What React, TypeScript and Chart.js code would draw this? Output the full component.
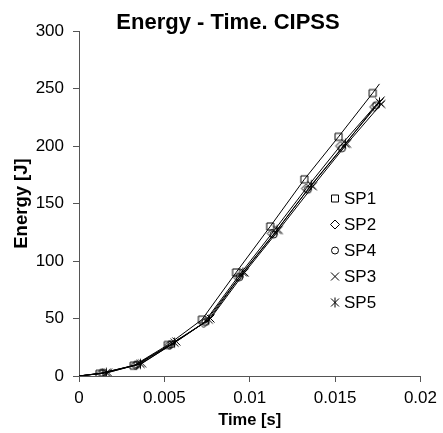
import React, { useEffect, useRef } from 'react';
import { Chart, registerables } from 'chart.js';

Chart.register(...registerables);

// ---- data (time in s, energy in J); first/last entries are line start/end only ----
const xTickValues = [0, 0.005, 0.01, 0.015, 0.02];
const xTickLabels = ['0', '0.005', '0.01', '0.015', '0.02'];
const yTickValues = [0, 50, 100, 150, 200, 250, 300];
const yTickLabels = ['0', '50', '100', '150', '200', '250', '300'];

const seriesNames = ['SP1', 'SP2', 'SP4', 'SP3', 'SP5'];

const sp1Time = [0, 0.0012, 0.0032, 0.0052, 0.0072, 0.0092, 0.0112, 0.0132, 0.0152, 0.0172, 0.0176];
const sp1Energy = [0, 2, 9, 27, 49, 90, 130, 171, 208, 246, 254];

const sp2Time = [0, 0.0013, 0.0033, 0.0053, 0.0073, 0.0093, 0.0113, 0.0133, 0.0153, 0.0173, 0.0177];
const sp2Energy = [0, 2.5, 9.5, 27, 46, 86, 124, 163, 200, 234, 240];

const sp4Time = [0, 0.0014, 0.0034, 0.0054, 0.0074, 0.0094, 0.0114, 0.0134, 0.0154, 0.0174, 0.0178];
const sp4Energy = [0, 2.6, 9.8, 27.5, 47, 86, 123, 162, 198, 235.5, 241];

const sp3Time = [0, 0.0017, 0.0037, 0.0057, 0.0077, 0.0097, 0.0117, 0.0137, 0.0157, 0.0177, 0.0179];
const sp3Energy = [0, 3, 11, 30, 50, 90, 127, 165, 202, 236.5, 239];

const sp5Time = [0, 0.0016, 0.0036, 0.0056, 0.0076, 0.0096, 0.0116, 0.0136, 0.0156, 0.0176, 0.0179];
const sp5Energy = [0, 2.8, 10.5, 29, 49, 90, 127, 166, 202, 238, 243];

const FONT = "'Liberation Sans', Arial, sans-serif";

type MarkerKind = 'square' | 'diamond' | 'circle' | 'cross' | 'star';

function drawMarker(ctx: CanvasRenderingContext2D, kind: MarkerKind, x: number, y: number) {
  ctx.save();
  ctx.strokeStyle = '#000';
  ctx.lineWidth = 1;
  ctx.beginPath();
  if (kind === 'square') {
    ctx.rect(x - 3.5, y - 3.5, 7, 7);
  } else if (kind === 'diamond') {
    ctx.moveTo(x, y - 4.5);
    ctx.lineTo(x + 4.5, y);
    ctx.lineTo(x, y + 4.5);
    ctx.lineTo(x - 4.5, y);
    ctx.closePath();
  } else if (kind === 'circle') {
    ctx.arc(x, y, 3.5, 0, Math.PI * 2);
  } else if (kind === 'cross') {
    ctx.moveTo(x - 4, y - 4);
    ctx.lineTo(x + 4, y + 4);
    ctx.moveTo(x + 4, y - 4);
    ctx.lineTo(x - 4, y + 4);
  } else {
    ctx.moveTo(x - 4, y - 4);
    ctx.lineTo(x + 4, y + 4);
    ctx.moveTo(x + 4, y - 4);
    ctx.lineTo(x - 4, y + 4);
    ctx.moveTo(x, y - 5);
    ctx.lineTo(x, y + 5);
  }
  ctx.stroke();
  ctx.restore();
}

function markerCanvas(kind: MarkerKind): HTMLCanvasElement {
  const c = document.createElement('canvas');
  c.width = 13;
  c.height = 13;
  const ctx = c.getContext('2d')!;
  drawMarker(ctx, kind, 6.5, 6.5);
  return c;
}

const markerKinds: MarkerKind[] = ['square', 'diamond', 'circle', 'cross', 'star'];

export default function App() {
  const ref = useRef<HTMLCanvasElement>(null);

  useEffect(() => {
    if (!ref.current) return;
    const times = [sp1Time, sp2Time, sp4Time, sp3Time, sp5Time];
    const energies = [sp1Energy, sp2Energy, sp4Energy, sp3Energy, sp5Energy];

    const datasets = seriesNames.map((name, i) => {
      const img = markerCanvas(markerKinds[i]);
      const n = times[i].length;
      return {
        label: name,
        data: times[i].map((t, j) => ({ x: t, y: energies[i][j] })),
        showLine: true,
        borderColor: '#000',
        borderWidth: 1,
        backgroundColor: 'rgba(0,0,0,0)',
        pointStyle: img as any,
        pointRadius: (c: any) => (c.dataIndex === 0 || c.dataIndex === n - 1 ? 0 : 5),
        tension: 0,
      };
    });

    const overlay = {
      id: 'overlay',
      afterDraw(chart: any) {
        const ctx: CanvasRenderingContext2D = chart.ctx;
        ctx.save();
        // title
        ctx.fillStyle = '#000';
        ctx.font = `bold 22px ${FONT}`;
        ctx.textAlign = 'center';
        ctx.textBaseline = 'alphabetic';
        ctx.fillText('Energy - Time. CIPSS', 228, 29);
        // legend
        ctx.font = `17px ${FONT}`;
        ctx.textAlign = 'left';
        ctx.textBaseline = 'middle';
        const legendTop = 198.5;
        const step = 26;
        seriesNames.forEach((name, i) => {
          const y = legendTop + i * step;
          drawMarker(ctx, markerKinds[i], 335, y);
          ctx.fillStyle = '#000';
          ctx.fillText(name, 344, y + 1);
        });
        ctx.restore();
      },
    };

    const chart = new Chart(ref.current, {
      type: 'scatter',
      data: { datasets: datasets as any },
      options: {
        animation: false,
        responsive: true,
        maintainAspectRatio: false,
        layout: { padding: { top: 31, right: 19, left: 0, bottom: 0 } },
        plugins: {
          legend: { display: false },
          title: { display: false },
          tooltip: { enabled: false },
        },
        scales: {
          x: {
            type: 'linear',
            min: 0,
            max: 0.02,
            afterFit: (s: any) => {
              s.height = 57;
            },
            afterBuildTicks: (s: any) => {
              s.ticks = xTickValues.map((v) => ({ value: v }));
            },
            ticks: {
              color: '#000',
              font: { family: FONT, size: 17 },
              padding: 6,
              maxRotation: 0,
              callback: (_v: any, idx: number) => xTickLabels[idx],
            },
            grid: {
              display: true,
              drawOnChartArea: false,
              drawTicks: true,
              tickLength: 6,
              color: '#555',
              lineWidth: 1,
            },
            border: { display: true, color: '#555', width: 1 },
            title: {
              display: true,
              text: 'Time [s]',
              color: '#000',
              font: { family: FONT, size: 16.5, weight: 'bold' },
              padding: { top: 0, bottom: 3 },
            },
          },
          y: {
            type: 'linear',
            min: 0,
            max: 300,
            afterFit: (s: any) => {
              s.width = 79;
            },
            afterBuildTicks: (s: any) => {
              s.ticks = yTickValues.map((v) => ({ value: v }));
            },
            ticks: {
              color: '#000',
              font: { family: FONT, size: 17 },
              padding: 9,
              callback: (_v: any, idx: number) => yTickLabels[idx],
            },
            grid: {
              display: true,
              drawOnChartArea: false,
              drawTicks: true,
              tickLength: 6,
              color: '#555',
              lineWidth: 1,
            },
            border: { display: true, color: '#555', width: 1 },
            title: {
              display: true,
              text: 'Energy [J]',
              color: '#000',
              font: { family: FONT, size: 18.5, weight: 'bold' },
              padding: { top: 11, bottom: 0 },
            },
          },
        },
      },
      plugins: [overlay],
    });
    return () => chart.destroy();
  }, []);

  return (
    <div style={{ position: 'fixed', left: 0, top: 0, width: 443, height: 433, background: '#fff' }}>
      <canvas ref={ref} />
    </div>
  );
}
